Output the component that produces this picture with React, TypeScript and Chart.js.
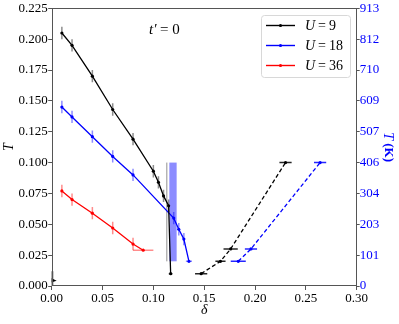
import React, { useEffect, useRef } from 'react';
import { Chart, registerables } from 'chart.js';

Chart.register(...registerables);

// ---- tick labels ----
const xTicks = [0, 0.05, 0.1, 0.15, 0.2, 0.25, 0.3];
const yTicks = [0, 0.025, 0.05, 0.075, 0.1, 0.125, 0.15, 0.175, 0.2, 0.225];
const kelvinTicks = ['0', '101', '203', '304', '406', '507', '609', '710', '812', '913'];

// ---- U = 9 (solid) ----
const u9X = [0.01, 0.02, 0.04, 0.06, 0.08, 0.10, 0.105, 0.11, 0.115, 0.117];
const u9Y = [0.205, 0.195, 0.170, 0.143, 0.119, 0.093, 0.084, 0.073, 0.065, 0.01];
const u9YErr = [0.005, 0.005, 0.005, 0.005, 0.005, 0.005, 0.005, 0.005, 0.005, 0];
const u9XErr = [0, 0, 0, 0, 0, 0, 0, 0, 0, 0.002];

// ---- U = 18 (solid) ----
const u18X = [0.01, 0.02, 0.04, 0.06, 0.08, 0.12, 0.125, 0.13, 0.135];
const u18Y = [0.145, 0.137, 0.121, 0.105, 0.090, 0.055, 0.046, 0.038, 0.02];
const u18YErr = [0.005, 0.005, 0.005, 0.005, 0.005, 0.005, 0.005, 0.005, 0];
const u18XErr = [0, 0, 0, 0, 0, 0, 0, 0, 0.003];

// ---- U = 36 (solid) ----
const u36X = [0.01, 0.02, 0.04, 0.06, 0.08, 0.09];
const u36Y = [0.077, 0.070, 0.059, 0.047, 0.034, 0.029];
const u36YErr = [0.005, 0.005, 0.005, 0.005, 0.005, 0];
const u36XErr = [0, 0, 0, 0, 0, 0.01];

// ---- U = 9 (dashed, overdoped side) ----
const u9dX = [0.147, 0.166, 0.176, 0.230];
const u9dY = [0.01, 0.02, 0.03, 0.10];
const u9dXErr = [0.006, 0.005, 0.007, 0.006];

// ---- U = 18 (dashed, overdoped side) ----
const u18dX = [0.1835, 0.196, 0.264];
const u18dY = [0.02, 0.03, 0.10];
const u18dXErr = [0.0074, 0.006, 0.006];

// ---- marker at origin ----
const originX = [0];
const originY = [0.005];
const originYErr = [0.007];

// ---- shaded critical-doping bands ----
const bandXMin = [0.1126, 0.1157];
const bandXMax = [0.1136, 0.1229];
const bandYMin = 0.02;
const bandYMax = 0.10;
const bandColors = ['rgba(90,90,90,0.55)', 'rgba(0,0,255,0.45)'];

const SERIF = '"Liberation Serif", "DejaVu Serif", serif';

const pts = (xs: number[], ys: number[]) => xs.map((x, i) => ({ x, y: ys[i] }));

const overlay = {
  id: 'overlay',
  beforeDatasetsDraw(chart: any) {
    const { ctx, chartArea: a, scales } = chart;
    const x = scales.x, y = scales.y;
    ctx.save();
    ctx.beginPath();
    ctx.rect(a.left, a.top, a.right - a.left, a.bottom - a.top);
    ctx.clip();
    bandColors.forEach((c, i) => {
      const x0 = x.getPixelForValue(bandXMin[i]);
      const x1 = x.getPixelForValue(bandXMax[i]);
      const y0 = y.getPixelForValue(bandYMax);
      const y1 = y.getPixelForValue(bandYMin);
      ctx.fillStyle = c;
      ctx.fillRect(x0, y0, Math.max(1.2, x1 - x0), y1 - y0);
    });
    chart.data.datasets.forEach((ds: any) => {
      ctx.strokeStyle = ds.errColor;
      ctx.lineWidth = ds.errWidth || 1.5;
      ds.data.forEach((p: any, j: number) => {
        const px = x.getPixelForValue(p.x);
        const py = y.getPixelForValue(p.y);
        const ey = (ds.errY && ds.errY[j]) || 0;
        const ex = (ds.errX && ds.errX[j]) || 0;
        ctx.beginPath();
        if (ey) {
          ctx.moveTo(px, y.getPixelForValue(p.y - ey));
          ctx.lineTo(px, y.getPixelForValue(p.y + ey));
        }
        if (ex) {
          ctx.moveTo(x.getPixelForValue(p.x - ex), py);
          ctx.lineTo(x.getPixelForValue(p.x + ex), py);
        }
        ctx.stroke();
      });
      if (ds.wedge) {
        ctx.fillStyle = '#000';
        ds.data.forEach((p: any) => {
          const px = x.getPixelForValue(p.x);
          const py = y.getPixelForValue(p.y);
          ctx.beginPath();
          ctx.moveTo(px - 5, py - 4);
          ctx.lineTo(px + 5, py + 1);
          ctx.lineTo(px - 5, py + 4);
          ctx.closePath();
          ctx.fill();
        });
      }
    });
    ctx.restore();
  },
  afterDraw(chart: any) {
    const { ctx, chartArea: a } = chart;
    ctx.save();
    // frame
    ctx.strokeStyle = '#555';
    ctx.lineWidth = 1;
    ctx.strokeRect(Math.round(a.left) + 0.5, Math.round(a.top) + 0.5, Math.round(a.right - a.left) - 1, Math.round(a.bottom - a.top) - 1);

    const cy = (a.top + a.bottom) / 2;
    // left title
    ctx.fillStyle = '#000';
    ctx.font = `italic 14px ${SERIF}`;
    ctx.textAlign = 'center';
    ctx.textBaseline = 'middle';
    ctx.save();
    ctx.translate(9, cy);
    ctx.rotate(-Math.PI / 2);
    ctx.fillText('T', 0, 0);
    ctx.restore();
    // x title
    ctx.fillText('δ', (a.left + a.right) / 2, 310);
    // right title
    ctx.save();
    ctx.translate(388, cy);
    ctx.rotate(Math.PI / 2);
    ctx.fillStyle = '#0000ff';
    ctx.textAlign = 'left';
    ctx.font = `italic 14px ${SERIF}`;
    const w1 = ctx.measureText('T').width;
    ctx.font = `bold 13px ${SERIF}`;
    const w2 = ctx.measureText(' (K)').width;
    const sx = -(w1 + w2) / 2;
    ctx.font = `italic 14px ${SERIF}`;
    ctx.fillText('T', sx, 0);
    ctx.font = `bold 13px ${SERIF}`;
    ctx.fillText(' (K)', sx + w1, 0);
    ctx.restore();
    // annotation
    ctx.fillStyle = '#000';
    ctx.font = `italic 15px ${SERIF}`;
    ctx.textAlign = 'left';
    ctx.fillText('t′', 149, 30);
    ctx.font = `15px ${SERIF}`;
    ctx.fillText('= 0', 160, 30);

    // legend
    const lx = 261.5, ly = 15.5, lw = 89, lh = 62;
    ctx.fillStyle = 'rgba(255,255,255,0.85)';
    ctx.strokeStyle = '#d8d8d8';
    ctx.lineWidth = 1;
    ctx.beginPath();
    ctx.roundRect(lx, ly, lw, lh, 3);
    ctx.fill();
    ctx.stroke();
    const entries = chart.data.datasets.filter((d: any) => d.inLegend);
    entries.forEach((d: any, i: number) => {
      const yy = 25.5 + i * 20;
      ctx.strokeStyle = d.borderColor;
      ctx.lineWidth = 1.4;
      ctx.beginPath();
      ctx.moveTo(266, yy);
      ctx.lineTo(295, yy);
      ctx.stroke();
      ctx.fillStyle = d.borderColor;
      ctx.beginPath();
      ctx.arc(280.5, yy, 1.6, 0, Math.PI * 2);
      ctx.fill();
      ctx.fillStyle = '#000';
      ctx.textBaseline = 'middle';
      ctx.font = `italic 14px ${SERIF}`;
      ctx.fillText('U', 305, yy + 1);
      const wu = ctx.measureText('U').width;
      ctx.font = `14px ${SERIF}`;
      ctx.fillText('=', 305 + wu + 3, yy + 1);
      const we = ctx.measureText('=').width;
      ctx.fillText(d.label, 305 + wu + 3 + we + 3, yy + 1);
    });
    ctx.restore();
  },
};

export default function App() {
  const ref = useRef<HTMLCanvasElement | null>(null);
  useEffect(() => {
    if (!ref.current) return;
    const mk = (label: string, xs: number[], ys: number[], color: string, errColor: string, errY: number[] | null, errX: number[] | null, dashed: boolean, inLegend: boolean) => ({
      label,
      data: pts(xs, ys),
      borderColor: color,
      backgroundColor: color,
      borderWidth: 1.3,
      borderDash: dashed ? [4, 2.5] : [],
      pointRadius: 1.6,
      pointHoverRadius: 1.6,
      pointBorderWidth: 0,
      showLine: true,
      tension: 0,
      errY,
      errX,
      errColor,
      inLegend,
    });
    const datasets: any[] = [
      mk('9', u9X, u9Y, '#000000', 'rgba(0,0,0,0.45)', u9YErr, u9XErr, false, true),
      mk('18', u18X, u18Y, '#0000ff', 'rgba(0,0,255,0.45)', u18YErr, u18XErr, false, true),
      mk('36', u36X, u36Y, '#ff0000', 'rgba(255,0,0,0.45)', u36YErr, u36XErr, false, true),
      mk('9d', u9dX, u9dY, '#000000', 'rgba(0,0,0,0.85)', null, u9dXErr, true, false),
      mk('18d', u18dX, u18dY, '#0000ff', 'rgba(0,0,255,0.85)', null, u18dXErr, true, false),
      {
        ...mk('o', originX, originY, '#000000', '#000000', originYErr, null, false, false),
        pointRadius: 0,
        pointHoverRadius: 0,
        errWidth: 3,
        wedge: true,
      },
    ];
    const tickFont = { family: SERIF, size: 13 };
    const chart = new Chart(ref.current, {
      type: 'line',
      data: { datasets },
      plugins: [overlay],
      options: {
        animation: false,
        responsive: false,
        maintainAspectRatio: false,
        layout: { padding: { top: 7.5, left: 0, right: 0, bottom: 0 } },
        plugins: { legend: { display: false }, tooltip: { enabled: false } },
        scales: {
          x: {
            type: 'linear',
            min: 0,
            max: 0.3,
            afterBuildTicks: (s: any) => { s.ticks = xTicks.map((v) => ({ value: v })); },
            afterFit: (s: any) => { s.height = 38; },
            ticks: { font: tickFont, color: '#000', padding: 1, maxRotation: 0, callback: (v: any) => Number(v).toFixed(2) },
            grid: { display: true, drawOnChartArea: false, drawTicks: true, tickLength: 4, color: '#555' },
            border: { display: false },
          },
          y: {
            type: 'linear',
            position: 'left',
            min: 0,
            max: 0.225,
            afterBuildTicks: (s: any) => { s.ticks = yTicks.map((v) => ({ value: v })); },
            afterFit: (s: any) => { s.width = 51.7; },
            ticks: { font: tickFont, color: '#000', padding: 0.5, callback: (v: any) => Number(v).toFixed(3) },
            grid: { display: true, drawOnChartArea: false, drawTicks: true, tickLength: 3.5, color: '#555' },
            border: { display: false },
          },
          y2: {
            type: 'linear',
            position: 'right',
            min: 0,
            max: 0.225,
            afterBuildTicks: (s: any) => { s.ticks = yTicks.map((v) => ({ value: v })); },
            afterFit: (s: any) => { s.width = 42.3; },
            ticks: { font: tickFont, color: '#0000ff', padding: 0, callback: (_v: any, i: number) => kelvinTicks[i] },
            grid: { display: true, drawOnChartArea: false, drawTicks: true, tickLength: 3, color: '#555' },
            border: { display: false },
          },
        },
      } as any,
    });
    return () => chart.destroy();
  }, []);
  return (
    <div style={{ position: 'fixed', left: 0, top: 0, width: 399, height: 324, background: '#fff' }}>
      <canvas ref={ref} width={399} height={324} style={{ width: 399, height: 324, display: 'block' }} />
    </div>
  );
}
